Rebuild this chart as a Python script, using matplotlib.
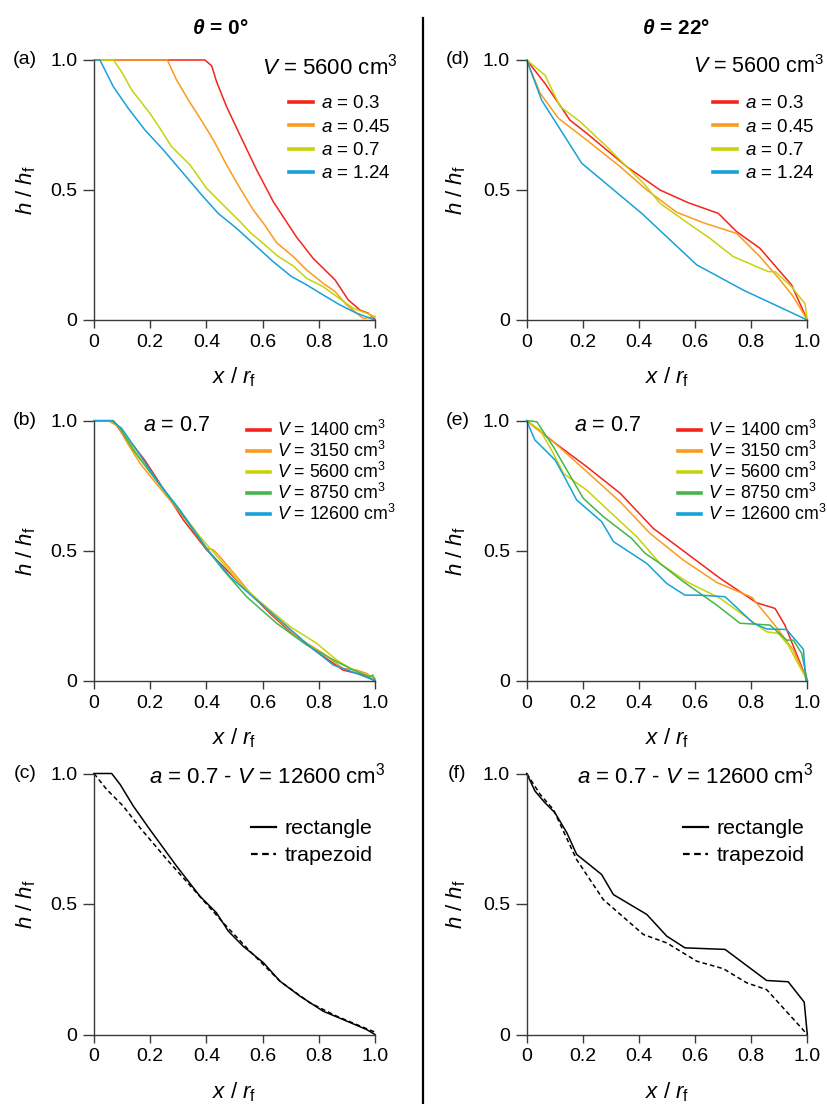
import matplotlib
matplotlib.use("Agg")
import matplotlib.pyplot as plt
from matplotlib.lines import Line2D
from matplotlib.ticker import FuncFormatter

plt.rcParams['font.family'] = ['Liberation Sans', 'DejaVu Sans']
plt.rcParams['mathtext.fontset'] = 'custom'
plt.rcParams['mathtext.rm'] = 'Liberation Sans'
plt.rcParams['mathtext.it'] = 'Liberation Sans:italic'
plt.rcParams['mathtext.bf'] = 'Liberation Sans:italic:bold'

# colours used for the series
RED, ORANGE, YELLOW, GREEN, BLUE = '#f5231d', '#fb9a1c', '#c6d30a', '#46b54a', '#16a2d9'
AXCOL = '#3a3a3a'

# ---------- (a) theta = 0, V = 5600 cm3, varying a ----------
a_labels = ['0.3', '0.45', '0.7', '1.24']
a_x_03 = [0, 0.395, 0.419, 0.436, 0.472, 0.52, 0.579, 0.638, 0.72, 0.78, 0.858, 0.905, 0.947, 0.976, 1.0]
a_y_03 = [1, 1, 0.977, 0.917, 0.82, 0.71, 0.577, 0.455, 0.32, 0.237, 0.154, 0.077, 0.038, 0.026, 0.003]
a_x_045 = [0, 0.261, 0.294, 0.336, 0.389, 0.425, 0.472, 0.52, 0.567, 0.603, 0.65, 0.709, 0.757, 0.816, 0.858, 0.899, 0.935, 0.958, 1.0]
a_y_045 = [1, 1, 0.923, 0.846, 0.756, 0.692, 0.596, 0.506, 0.423, 0.372, 0.297, 0.244, 0.192, 0.141, 0.109, 0.058, 0.026, 0.006, 0.013]
a_x_07 = [0, 0.069, 0.098, 0.134, 0.199, 0.235, 0.276, 0.342, 0.401, 0.46, 0.52, 0.561, 0.591, 0.656, 0.709, 0.757, 0.816, 0.864, 0.923, 0.97, 1.0]
a_y_07 = [1, 1, 0.955, 0.885, 0.795, 0.737, 0.667, 0.596, 0.506, 0.442, 0.378, 0.331, 0.305, 0.244, 0.208, 0.16, 0.128, 0.09, 0.045, 0.026, 0.013]
a_x_124 = [0, 0.021, 0.069, 0.122, 0.181, 0.247, 0.318, 0.383, 0.442, 0.507, 0.579, 0.638, 0.703, 0.757, 0.816, 0.875, 0.935, 1.0]
a_y_124 = [1, 1, 0.897, 0.814, 0.731, 0.654, 0.564, 0.481, 0.41, 0.353, 0.282, 0.224, 0.167, 0.135, 0.096, 0.058, 0.026, 0.0]

# ---------- (d) theta = 22, V = 5600 cm3, varying a ----------
d_x_03 = [0, 0.065, 0.154, 0.214, 0.356, 0.475, 0.576, 0.683, 0.748, 0.831, 0.944, 1.0]
d_y_03 = [1, 0.91, 0.769, 0.718, 0.59, 0.5, 0.451, 0.41, 0.34, 0.276, 0.135, 0.0]
d_x_045 = [0, 0.048, 0.113, 0.214, 0.333, 0.428, 0.535, 0.635, 0.748, 0.831, 0.903, 0.95, 1.0]
d_y_045 = [1, 0.872, 0.776, 0.692, 0.59, 0.5, 0.414, 0.372, 0.333, 0.244, 0.154, 0.09, 0.0]
d_x_07 = [0, 0.065, 0.119, 0.19, 0.285, 0.356, 0.416, 0.475, 0.558, 0.653, 0.736, 0.861, 0.885, 0.944, 0.992, 1.0]
d_y_07 = [1, 0.942, 0.821, 0.763, 0.667, 0.59, 0.526, 0.449, 0.385, 0.314, 0.244, 0.186, 0.186, 0.128, 0.062, 0.0]
d_x_124 = [0, 0.053, 0.196, 0.41, 0.606, 0.772, 1.0]
d_y_124 = [1, 0.846, 0.603, 0.41, 0.212, 0.115, 0.0]

# ---------- (b) theta = 0, a = 0.7, varying V ----------
v_labels = ['1400', '3150', '5600', '8750', '12600']
b_x_1400 = [0, 0.069, 0.104, 0.139, 0.18, 0.223, 0.318, 0.401, 0.472, 0.555, 0.626, 0.698, 0.792, 0.886, 0.958, 1.0]
b_y_1400 = [1, 1, 0.945, 0.906, 0.849, 0.778, 0.618, 0.503, 0.426, 0.336, 0.259, 0.188, 0.112, 0.041, 0.022, 0.0]
b_x_3150 = [0, 0.051, 0.087, 0.116, 0.164, 0.211, 0.27, 0.342, 0.401, 0.425, 0.448, 0.508, 0.567, 0.65, 0.721, 0.816, 0.886, 0.935, 0.97, 1.0]
b_y_3150 = [1, 1, 0.977, 0.919, 0.836, 0.772, 0.695, 0.599, 0.509, 0.503, 0.477, 0.4, 0.323, 0.24, 0.169, 0.105, 0.047, 0.041, 0.028, 0.005]
b_x_5600 = [0, 0.063, 0.098, 0.152, 0.199, 0.282, 0.377, 0.46, 0.52, 0.591, 0.698, 0.792, 0.864, 0.923, 1.0]
b_y_5600 = [1, 1, 0.964, 0.874, 0.804, 0.688, 0.554, 0.451, 0.374, 0.304, 0.208, 0.144, 0.079, 0.041, 0.009]
b_x_8750 = [0, 0.069, 0.093, 0.14, 0.211, 0.294, 0.395, 0.46, 0.543, 0.65, 0.757, 0.864, 0.935, 0.982, 0.992, 1.0]
b_y_8750 = [1, 1, 0.971, 0.887, 0.785, 0.669, 0.515, 0.426, 0.323, 0.221, 0.137, 0.073, 0.035, 0.015, 0.022, 0.0]
b_x_12600 = [0, 0.063, 0.098, 0.152, 0.223, 0.306, 0.401, 0.484, 0.579, 0.674, 0.769, 0.852, 0.935, 1.0]
b_y_12600 = [1, 1, 0.971, 0.887, 0.772, 0.656, 0.509, 0.4, 0.31, 0.221, 0.131, 0.06, 0.028, 0.0]

# ---------- (e) theta = 22, a = 0.7, varying V ----------
e_x_1400 = [0, 0.095, 0.214, 0.333, 0.451, 0.57, 0.689, 0.819, 0.885, 0.92, 1.0]
e_y_1400 = [1, 0.919, 0.823, 0.721, 0.586, 0.49, 0.394, 0.3, 0.278, 0.214, 0.0]
e_x_3150 = [0, 0.095, 0.214, 0.333, 0.439, 0.558, 0.677, 0.802, 0.879, 0.95, 1.0]
e_y_3150 = [1, 0.919, 0.804, 0.688, 0.567, 0.464, 0.378, 0.321, 0.221, 0.118, 0.0]
e_x_5600 = [0, 0.048, 0.095, 0.131, 0.214, 0.309, 0.392, 0.475, 0.57, 0.689, 0.855, 0.897, 0.932, 1.0]
e_y_5600 = [1, 0.964, 0.874, 0.797, 0.733, 0.637, 0.554, 0.451, 0.381, 0.317, 0.188, 0.182, 0.137, 0.0]
e_x_8750 = [0, 0.036, 0.095, 0.143, 0.202, 0.273, 0.374, 0.422, 0.475, 0.558, 0.677, 0.76, 0.867, 0.926, 0.95, 0.98, 1.0]
e_y_8750 = [1, 0.996, 0.9, 0.81, 0.701, 0.631, 0.547, 0.49, 0.451, 0.381, 0.291, 0.221, 0.214, 0.156, 0.156, 0.105, 0.0]
e_x_12600 = [0, 0.029, 0.059, 0.101, 0.131, 0.178, 0.267, 0.309, 0.428, 0.499, 0.564, 0.618, 0.707, 0.808, 0.855, 0.926, 0.986, 0.995]
e_y_12600 = [1, 0.926, 0.894, 0.849, 0.791, 0.695, 0.612, 0.535, 0.451, 0.374, 0.329, 0.329, 0.323, 0.221, 0.199, 0.197, 0.121, 0.0]

# ---------- (c) theta = 0, rectangle vs trapezoid ----------
c_x_rect = [0, 0.063, 0.093, 0.14, 0.199, 0.294, 0.377, 0.436, 0.478, 0.531, 0.603, 0.662, 0.733, 0.816, 0.887, 0.97, 1.0]
c_y_rect = [1, 1, 0.958, 0.875, 0.785, 0.645, 0.53, 0.466, 0.396, 0.338, 0.275, 0.204, 0.147, 0.089, 0.057, 0.019, 0.0]
c_x_trap = [0, 0.045, 0.104, 0.164, 0.259, 0.365, 0.46, 0.555, 0.662, 0.769, 0.864, 0.935, 1.0]
c_y_trap = [1, 0.939, 0.875, 0.792, 0.671, 0.543, 0.428, 0.319, 0.204, 0.121, 0.07, 0.038, 0.009]

# ---------- (f) theta = 22, rectangle vs trapezoid ----------
f_x_rect = [0, 0.03, 0.065, 0.101, 0.143, 0.178, 0.267, 0.309, 0.428, 0.499, 0.564, 0.707, 0.855, 0.932, 0.989, 1.0]
f_y_rect = [1, 0.932, 0.888, 0.849, 0.773, 0.69, 0.613, 0.536, 0.46, 0.377, 0.332, 0.326, 0.207, 0.202, 0.124, 0.0]
f_x_trap = [0, 0.048, 0.095, 0.178, 0.273, 0.416, 0.499, 0.606, 0.701, 0.784, 0.855, 1.0]
f_y_trap = [1, 0.92, 0.862, 0.67, 0.517, 0.383, 0.351, 0.281, 0.252, 0.198, 0.172, 0.0]

W, H = 828, 1104
fig = plt.figure(figsize=(W / 100, H / 100), dpi=100)


def px_axes(x0, x1, ytop, ybot):
    return fig.add_axes([x0 / W, 1 - ybot / H, (x1 - x0) / W, (ybot - ytop) / H])


def style(ax, right_col):
    ax.set_xlim(0, 1)
    ax.set_ylim(0, 1)
    for s in ['top', 'right']:
        ax.spines[s].set_visible(False)
    for s in ['left', 'bottom']:
        ax.spines[s].set_color(AXCOL)
        ax.spines[s].set_linewidth(1.0)
    ax.set_xticks([0, 0.2, 0.4, 0.6, 0.8, 1.0])
    ax.set_yticks([0, 0.5, 1.0])
    fmt = FuncFormatter(lambda v, p: '0' if v == 0 else f'{v:.1f}')
    ax.xaxis.set_major_formatter(fmt)
    ax.yaxis.set_major_formatter(fmt)
    ax.tick_params(direction='out', width=1.0, color=AXCOL, labelsize=14)
    ax.tick_params(axis='x', length=6, pad=4)
    ax.tick_params(axis='y', length=8, pad=4)
    ax.set_xlabel(r'$x$ / $r_\mathrm{f}$', fontsize=16)
    ax.set_ylabel(r'$h$ / $h_\mathrm{f}$', fontsize=16)
    ax.xaxis.set_label_coords(0.5, -0.175)
    ax.yaxis.set_label_coords(-0.209 if right_col else -0.2, 0.5)


def leg(ax, anchor, fs, spacing, hl=1.55, tp=0.4):
    lg = ax.legend(loc='upper left', bbox_to_anchor=anchor, frameon=False, fontsize=fs,
                   borderaxespad=0, borderpad=0, handlelength=hl, handletextpad=tp,
                   labelspacing=spacing)
    for h in lg.legend_handles:
        h.set_linewidth(2.6)
    return lg


LW = 1.1
LX, RX = (94, 375), (526.7, 807.3)
ROWS = [(60, 320), (420.7, 680.7), (773.5, 1034.5)]

ax_a = px_axes(LX[0], LX[1], *ROWS[0])
ax_b = px_axes(LX[0], LX[1], *ROWS[1])
ax_c = px_axes(LX[0], LX[1], *ROWS[2])
ax_d = px_axes(RX[0], RX[1], *ROWS[0])
ax_e = px_axes(RX[0], RX[1], *ROWS[1])
ax_f = px_axes(RX[0], RX[1], *ROWS[2])

a_cols = [RED, ORANGE, YELLOW, BLUE]
v_cols = [RED, ORANGE, YELLOW, GREEN, BLUE]

# (a)
for xs, ys, c, lab in zip([a_x_03, a_x_045, a_x_07, a_x_124], [a_y_03, a_y_045, a_y_07, a_y_124], a_cols, a_labels):
    ax_a.plot(xs, ys, color=c, lw=LW, label=rf'$a$ = {lab}', clip_on=False)
# (d)
for xs, ys, c, lab in zip([d_x_03, d_x_045, d_x_07, d_x_124], [d_y_03, d_y_045, d_y_07, d_y_124], a_cols, a_labels):
    ax_d.plot(xs, ys, color=c, lw=LW, label=rf'$a$ = {lab}', clip_on=False)
# (b)
for xs, ys, c, lab in zip([b_x_1400, b_x_3150, b_x_5600, b_x_8750, b_x_12600],
                          [b_y_1400, b_y_3150, b_y_5600, b_y_8750, b_y_12600], v_cols, v_labels):
    ax_b.plot(xs, ys, color=c, lw=LW, label=rf'$V$ = {lab} cm$^3$', clip_on=False)
# (e)
for xs, ys, c, lab in zip([e_x_1400, e_x_3150, e_x_5600, e_x_8750, e_x_12600],
                          [e_y_1400, e_y_3150, e_y_5600, e_y_8750, e_y_12600], v_cols, v_labels):
    ax_e.plot(xs, ys, color=c, lw=LW, label=rf'$V$ = {lab} cm$^3$', clip_on=False)
# (c), (f)
ax_c.plot(c_x_rect, c_y_rect, color='black', lw=LW, label='rectangle', clip_on=False)
ax_c.plot(c_x_trap, c_y_trap, color='black', lw=LW, ls=(0, (3, 2)), label='trapezoid', clip_on=False)
ax_f.plot(f_x_rect, f_y_rect, color='black', lw=LW, label='rectangle', clip_on=False)
ax_f.plot(f_x_trap, f_y_trap, color='black', lw=LW, ls=(0, (3, 2)), label='trapezoid', clip_on=False)

for ax, rc in [(ax_a, 0), (ax_b, 0), (ax_c, 0), (ax_d, 1), (ax_e, 1), (ax_f, 1)]:
    style(ax, rc)

leg(ax_a, (0.694, 0.864), 13.5, 0.33, 1.3)
leg(ax_d, (0.663, 0.864), 13.5, 0.33, 1.3)
leg(ax_b, (0.544, 1.004), 12.8, 0.06, 1.3)
leg(ax_e, (0.539, 1.004), 12.8, 0.06, 1.3)
lc = leg(ax_c, (0.559, 0.825), 15.4, 0.38, 1.15)
lf = leg(ax_f, (0.557, 0.825), 15.4, 0.38, 1.15)
for lg in (lc, lf):
    for h in lg.legend_handles:
        h.set_linewidth(1.6)

# annotations
ax_a.text(0.598, 0.975, r'$V$ = 5600 cm$^3$', transform=ax_a.transAxes, fontsize=16, va='center', ha='left')
ax_d.text(0.594, 0.975, r'$V$ = 5600 cm$^3$', transform=ax_d.transAxes, fontsize=15.5, va='center', ha='left')
ax_b.text(0.295, 0.983, r'$a$ = 0.7', transform=ax_b.transAxes, fontsize=15.5, va='center', ha='center')
ax_e.text(0.290, 0.980, r'$a$ = 0.7', transform=ax_e.transAxes, fontsize=15.5, va='center', ha='center')
ax_c.text(0.196, 0.994, r'$a$ = 0.7 - $V$ = 12600 cm$^3$', transform=ax_c.transAxes, fontsize=16, va='center', ha='left')
ax_f.text(0.179, 0.994, r'$a$ = 0.7 - $V$ = 12600 cm$^3$', transform=ax_f.transAxes, fontsize=16, va='center', ha='left')

# panel letters
for lab, xp, yp in [('(a)', 25, 60), ('(b)', 25, 420.7), ('(c)', 25, 773.5),
                    ('(d)', 457.5, 60), ('(e)', 457.5, 420.7), ('(f)', 457.5, 773.5)]:
    fig.text(xp / W, 1 - yp / H, lab, fontsize=14, ha='center', va='center')

# column titles
fig.text(220 / W, 1 - 28 / H, r'$\mathbf{\theta}$ = 0°', fontsize=15, fontweight='bold', ha='center', va='center')
fig.text(676 / W, 1 - 28 / H, r'$\mathbf{\theta}$ = 22°', fontsize=15, fontweight='bold', ha='center', va='center')

# divider between the two columns
fig.add_artist(Line2D([422.5 / W, 422.5 / W], [1 - 18 / H, 0], transform=fig.transFigure, color='black', lw=1.6))

fig.savefig('out.png', dpi=100)
